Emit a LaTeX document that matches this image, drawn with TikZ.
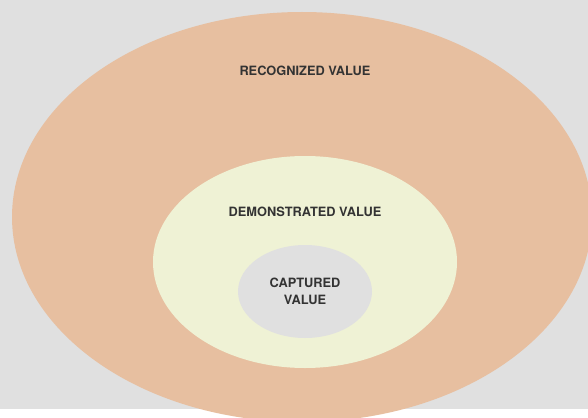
\documentclass[tikz,border=0pt]{standalone}
\usepackage{fontspec}
\setmainfont{TeX Gyre Heros}
\usetikzlibrary{shapes.geometric}
\definecolor{bggray}{HTML}{E0E0E0}
\definecolor{outerc}{HTML}{E7BFA0}
\definecolor{midc}{HTML}{EFF2D5}
\definecolor{innerc}{HTML}{E0E0E0}
\definecolor{txt}{HTML}{333333}
\tikzset{
  blob/.style={ellipse, inner sep=0pt, draw=none},
  lbl/.style={text=txt, font=\bfseries\fontsize{12.8}{17}\selectfont, align=center, inner sep=0pt}
}
\begin{document}
\begin{tikzpicture}[x=1pt,y=-1pt]
\useasboundingbox (0,0) rectangle (588,417);
\fill[white] (0,0) rectangle (588,417);
\fill[bggray] (0,0) rectangle (588,409);
\node[blob, fill=outerc, minimum width=580pt, minimum height=410pt] (outer) at (302,217) {};
\node[blob, fill=midc, minimum width=304pt, minimum height=212pt] (mid) at (305,262) {};
\node[blob, fill=innerc, minimum width=134pt, minimum height=93pt] (inner) at (305,291.5) {};
\node[lbl] (recog) at (305,71) {RECOGNIZED VALUE};
\node[lbl] (demo) at (305,212) {DEMONSTRATED VALUE};
\node[lbl] (capt) at (305,291.5) {CAPTURED\\VALUE};
\end{tikzpicture}
\end{document}
